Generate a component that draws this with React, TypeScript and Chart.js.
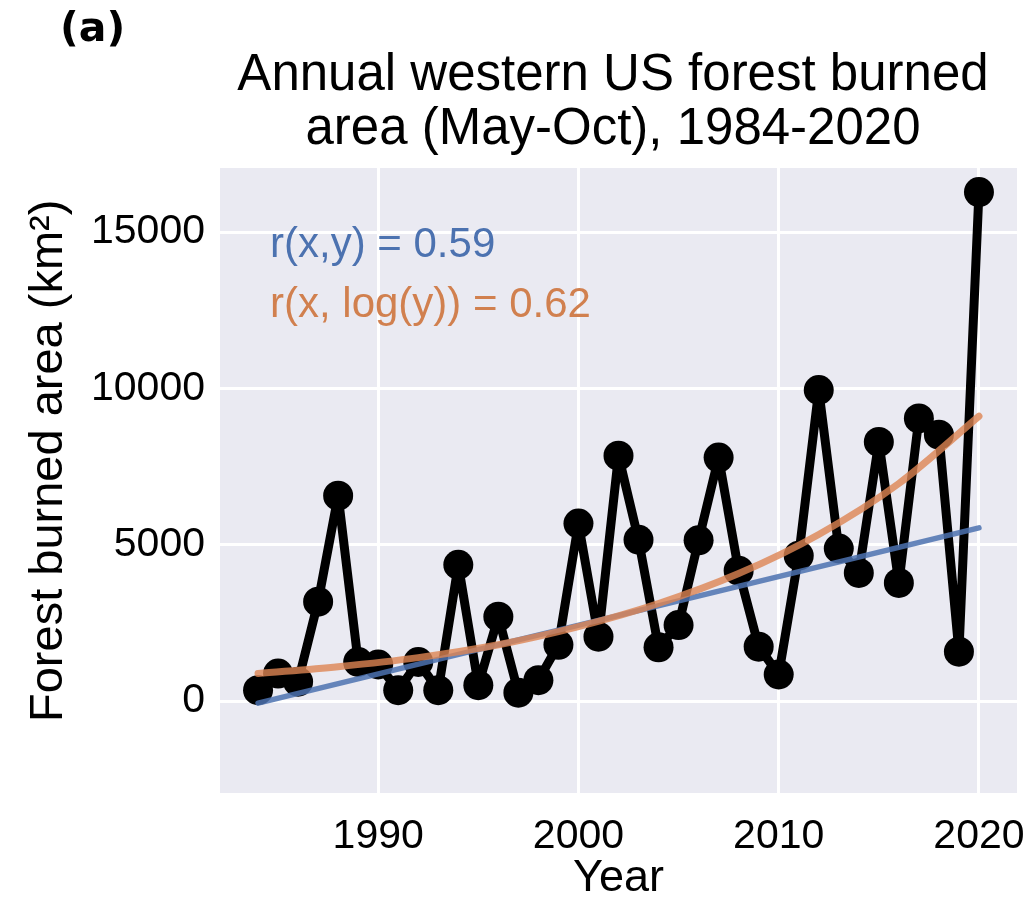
import React, { useEffect, useRef } from 'react';
import { Chart, registerables } from 'chart.js';

Chart.register(...registerables);

// ---- data ----
const years = [
  1984, 1985, 1986, 1987, 1988, 1989, 1990, 1991, 1992, 1993,
  1994, 1995, 1996, 1997, 1998, 1999, 2000, 2001, 2002, 2003,
  2004, 2005, 2006, 2007, 2008, 2009, 2010, 2011, 2012, 2013,
  2014, 2015, 2016, 2017, 2018, 2019, 2020,
];
const burnedArea = [
  350, 880, 620, 3180, 6570, 1250, 1170, 350, 1250, 350,
  4360, 510, 2700, 270, 670, 1800, 5680, 2060, 7850, 5160,
  1720, 2430, 5140, 7790, 4170, 1740, 850, 4650, 9950, 4880,
  4100, 8290, 3780, 9040, 8520, 1580, 16280,
];
const linearFitYears = [1984, 2020];
const linearFitValues = [-64, 5540];
const logFitYears = [1984, 1988, 1992, 1996, 2000, 2004, 2008, 2012, 2016, 2020];
const logFitValues = [880, 1100, 1390, 1800, 2380, 3120, 4080, 5330, 6960, 9110];

const xTickValues = [1990, 2000, 2010, 2020];
const yTickValues = [0, 5000, 10000, 15000];

const titleLines = ['Annual western US forest burned', 'area (May-Oct), 1984-2020'];
const panelLabel = '(a)';
const rLinearText = 'r(x,y) = 0.59';
const rLogText = 'r(x, log(y)) = 0.62';
const xAxisTitle = 'Year';
const yAxisTitle = 'Forest burned area (km\u00B2)';

const FONT = '"Liberation Sans", Arial, sans-serif';

const decorPlugin = {
  id: 'decor',
  beforeDraw(chart: any) {
    const { ctx, chartArea: a } = chart;
    ctx.save();
    ctx.fillStyle = '#ffffff';
    ctx.fillRect(0, 0, chart.width, chart.height);
    ctx.fillStyle = '#EAEAF2';
    ctx.fillRect(a.left, a.top, a.right - a.left, a.bottom - a.top);
    ctx.restore();
  },
  afterDraw(chart: any) {
    const { ctx } = chart;
    ctx.save();
    ctx.fillStyle = '#000000';
    ctx.textAlign = 'left';
    ctx.textBaseline = 'alphabetic';
    ctx.font = 'bold 41px "DejaVu Sans", sans-serif';
    ctx.fillText(panelLabel, 60, 41);

    ctx.textAlign = 'center';
    ctx.font = `51px ${FONT}`;
    ctx.fillText(titleLines[0], 613, 90);
    ctx.fillText(titleLines[1], 613, 144);

    // y axis title (rotated)
    ctx.save();
    ctx.translate(62, 722);
    ctx.rotate(-Math.PI / 2);
    ctx.textAlign = 'left';
    ctx.textBaseline = 'alphabetic';
    ctx.font = `47px ${FONT}`;
    ctx.fillText(yAxisTitle, 0, 0);
    ctx.restore();

    ctx.textAlign = 'left';
    ctx.font = `42px ${FONT}`;
    ctx.fillStyle = '#4C72B0';
    ctx.fillText(rLinearText, 270, 257);
    ctx.fillStyle = '#D1804F';
    ctx.fillText(rLogText, 270, 317);
    ctx.restore();
  },
};

export default function App() {
  const canvasRef = useRef<HTMLCanvasElement | null>(null);

  useEffect(() => {
    const canvas = canvasRef.current;
    if (!canvas) return;
    const chart = new Chart(canvas, {
      type: 'line',
      data: {
        datasets: [
          {
            label: 'log fit',
            data: logFitYears.map((x, i) => ({ x, y: logFitValues[i] })),
            borderColor: 'rgba(221,132,82,0.8)',
            borderWidth: 7,
            pointRadius: 0,
            cubicInterpolationMode: 'monotone',
            borderCapStyle: 'round',
            borderJoinStyle: 'round',
            order: 1,
          },
          {
            label: 'linear fit',
            data: linearFitYears.map((x, i) => ({ x, y: linearFitValues[i] })),
            borderColor: 'rgba(76,114,176,0.85)',
            borderWidth: 5.5,
            pointRadius: 0,
            borderCapStyle: 'round',
            order: 2,
          },
          {
            label: 'burned area',
            data: years.map((x, i) => ({ x, y: burnedArea[i] })),
            borderColor: '#000000',
            backgroundColor: '#000000',
            borderWidth: 9,
            borderJoinStyle: 'round',
            borderCapStyle: 'round',
            pointRadius: 15,
            pointBorderWidth: 0,
            pointBackgroundColor: '#000000',
            tension: 0,
            order: 3,
          },
        ],
      } as any,
      options: {
        animation: false,
        responsive: false,
        devicePixelRatio: 1,
        layout: { padding: { top: 168, right: 11, bottom: 0, left: 0 } },
        plugins: {
          legend: { display: false },
          tooltip: { enabled: false },
        },
        scales: {
          x: {
            type: 'linear',
            min: 1982.1,
            max: 2021.9,
            afterBuildTicks: (s: any) => {
              s.ticks = xTickValues.map((v) => ({ value: v }));
            },
            afterFit: (s: any) => {
              s.height = 108;
              s.paddingLeft = 0;
              s.paddingRight = 0;
            },
            grid: { color: '#ffffff', lineWidth: 3, drawTicks: false },
            border: { display: false },
            ticks: {
              font: { size: 41, family: FONT },
              color: '#000000',
              padding: 19,
              maxRotation: 0,
              autoSkip: false,
              callback: (v: any) => String(v),
            },
            title: {
              display: true,
              text: xAxisTitle,
              color: '#000000',
              font: { size: 45, family: FONT },
              padding: { top: 0, bottom: -5 },
            },
          },
          y: {
            type: 'linear',
            min: -2940,
            max: 17050,
            afterBuildTicks: (s: any) => {
              s.ticks = yTickValues.map((v) => ({ value: v }));
            },
            afterFit: (s: any) => {
              s.width = 220;
              s.paddingTop = 0;
              s.paddingBottom = 0;
            },
            grid: { color: '#ffffff', lineWidth: 3, drawTicks: false },
            border: { display: false },
            ticks: {
              font: { size: 41, family: FONT },
              color: '#000000',
              padding: 15,
              callback: (v: any) => String(v),
            },
          },
        },
      } as any,
      plugins: [decorPlugin],
    });
    return () => chart.destroy();
  }, []);

  return (
    <div style={{ position: 'fixed', left: 0, top: 0, width: 1032, height: 901 }}>
      <canvas ref={canvasRef} width={1032} height={901} style={{ display: 'block' }} />
    </div>
  );
}
